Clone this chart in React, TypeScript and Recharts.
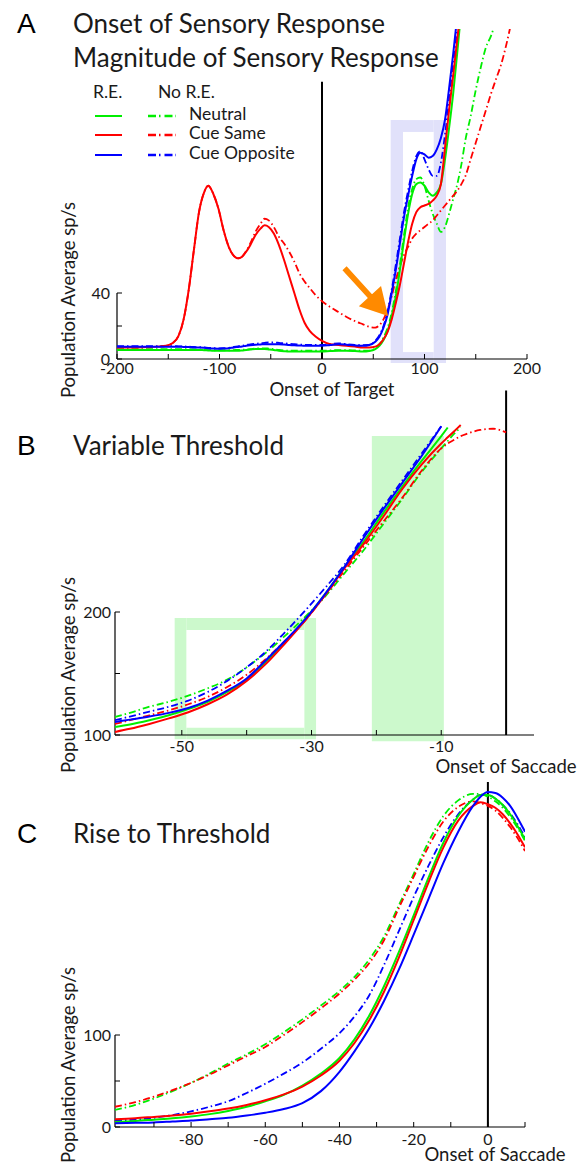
import React from 'react';
import { LineChart, Line, XAxis, YAxis, ReferenceLine, ReferenceArea } from 'recharts';

const FONT = "Lato, 'Open Sans', sans-serif";
const LETTER_FONT = "'Liberation Sans', Arial, sans-serif";
const GREEN = '#00ee00';
const RED = '#ff0000';
const BLUE = '#0000ff';
const LAVENDER = '#e1e1fa';
const MINT = '#ccf9cc';
const ORANGE = '#ff8a00';
const TEXT = '#1a1a1a';

// ---------- Panel A : Onset of Target ----------
const A_TIME = [-200,-180,-160,-152,-146,-140,-135,-130,-125,-120,-115,-111,-106,-101,-96,-91,-86,-82,-78,-74,-70,-65,-60,-56,-52,-47,-42,-37,-32,-27,-22,-17,-12,-6,0,8,16,24,32,40,46,52,56,60,64,68,72,76,80,84,88,92,96,100,104,108,112,116,120,124,128,132,136,140,145,150,155,160,165,170,175,180,185,190];
const A_NEUTRAL_RE = [5.5,5.5,5.5,5.5,5.5,5.5,5.5,5.5,5.5,5.5,5.3,5.2,5,5,5,5,5,5,5.2,5.5,5.7,6,6,6,5.8,5.5,5,4.7,4.5,4.5,4.5,4.5,4.5,4.5,4.5,4.8,5,5,4.8,4.5,4.8,6,8,11.5,17,26,38,54,72,88,100,106,107,105,101,99,101,106,121,140,161,186,212,null,null,null,null,null,null,null,null,null,null,null];
const A_SAME_RE = [7,7,7.5,8,9.5,14,24,42,66,89,101,105,100,91,78,68,62.5,61,62,65,69,75,79,81,80,76,69,60,50,40,30,22,17,13.5,11,9,8.5,8,7.5,7,7,7.5,9,12,16.5,24,34,45,58,71,82,89,92,93,94,96,99,106,128,151,172,194,216,null,null,null,null,null,null,null,null,null,null,null];
const A_OPPOSITE_RE = [7.5,7.5,7.5,7.5,7.5,7.5,7.3,7.2,7,7,6.8,6.5,6.3,6.2,6.3,6.5,7,7.3,7.6,8,8.3,8.6,8.8,9,9,9,9,8.8,8.5,8.3,8.2,8,8,8,8,8.5,9,8.7,8.2,8,8.5,10.5,13.5,19,27,40,54,70,86,99,111,121,125,124,122,123,127,134,145,164,185,208,null,null,null,null,null,null,null,null,null,null,null,null];
const A_NEUTRAL_NO = [6,6,6,6,6,6,6,6,5.8,5.7,5.5,5.4,5.3,5.3,5.3,5.3,5.4,5.5,5.6,5.8,6,6.3,6.5,6.5,6.3,6,5.5,5.2,5,5,5,5,5,5,5,5.2,5.4,5.4,5.2,5,5,6.5,9,13,19,28,41,57,75,92,103,109,110,105,96,88,82,77,80,88,97,106,118,133,147,163,177,189,196,206,null,null,null,null];
const A_SAME_NO = [7,7,7.5,8,9.5,14,24,42,66,89,101,105,100,91,78,68,62.5,61,62,65.5,70,77,82,85,84,80,74,70,65,59,52,47,43,38.5,35,31.5,28.5,25.5,23,21,19.5,19,20.5,24,30,38,48,56,63,68,73,76,78,80,82,84,87,90,93,96,99,102,106,111,121,131,141,151,161,170,179,191,205,null];
const A_OPPOSITE_NO = [7.8,7.8,7.8,7.8,7.8,7.7,7.6,7.5,7.3,7.2,7,6.8,6.6,6.5,6.6,6.8,7.3,7.7,8.1,8.5,8.9,9.2,9.5,9.8,10,10,9.8,9.5,9.2,9,8.8,8.6,8.5,8.5,8.5,9,9.5,9,8.6,8.4,8.5,11,14.5,20,29,42,57,73,89,102,114,123,126,121,115,111,111,119,136,157,179,200,220,null,null,null,null,null,null,null,null,null,null,null];
const A_X_TICKS = [-200,-150,-100,-50,0,50,100,150,200];
const A_X_LABELS = [-200,-100,0,100,200];
const A_Y_TICKS = [0,20,40];
const A_Y_LABELS = [0,40];
const A_FRAME_OUTER = { x1: 67, x2: 121, y1: -2.4, y2: 144.8 };
const A_FRAME_INNER = { x1: 79, x2: 109, y1: 4.2, y2: 137.6 };
const A_ARROW = [{ x: 22, y: 55 }, { x: 64.5, y: 26 }];

// ---------- Panel B : Variable Threshold ----------
const B_TIME = [-60.3,-58,-55,-52,-49,-46,-43,-40,-37,-34,-31,-28,-25,-22,-19,-16,-13,-10,-9,-8,-7,-6,-4,-2,0];
const B_NEUTRAL_RE = [106.5,108.5,112,116,121,127,135,145,160,176,194,214,236,257,280,302,323,343,350,null,null,null,null,null,null];
const B_SAME_RE = [102.5,105,109,113.5,118.5,125,133,144,158,175,193,213,235,255,277,300,320,337,342,347,352,null,null,null,null];
const B_OPPOSITE_RE = [110.6,112.5,115,118,122,128,136,146,161,177,194,214,236,260,283,305,327,351,null,null,null,null,null,null,null];
const B_NEUTRAL_NO = [114.6,118,123,127,132,138,145,155,167,181,196,212,231,250,271,292,314,333,339,345,350,null,null,null,null];
const B_SAME_NO = [109,112,116,120,125,131,139,149,162,177,193,213,233,253,273,293,315,333,337,340,343,345,348,349,346];
const B_OPPOSITE_NO = [112,115,119,123,128,135,144,155,168,184,201,219,238,262,285,307,329,351,null,null,null,null,null,null,null];
const B_X_TICKS = [-50,-40,-30,-20,-10];
const B_X_LABELS = [-50,-30,-10];
const B_Y_TICKS = [100,150,200];
const B_Y_LABELS = [100,200];
const B_FRAME_OUTER = { x1: -51.1, x2: -29.3, y1: 96.5, y2: 195.2 };
const B_FRAME_INNER = { x1: -49.3, x2: -31.1, y1: 105.9, y2: 185.4 };
const B_FILL = { x1: -20.7, x2: -9.6, y1: 95, y2: 343 };

// ---------- Panel C : Rise to Threshold ----------
const C_TIME = [-100.5,-95,-90,-85,-80,-75,-70,-65,-60,-55,-50,-45,-40,-36,-32,-28,-24,-20,-16,-12,-8,-4,-2,0,2,4,6,8,10];
const C_NEUTRAL_RE = [5.5,6.5,8,9.5,11.5,14,17.5,22,28,35,45,58,75,95,121,153,190,230,271,309,338,356,361,361,357,350,340,327,313];
const C_SAME_RE = [8.5,9.5,11,12.5,14.5,17,20,24,29,35.5,44,56,72,91,116,147,184,225,266,304,333,349,353,351,347,340,330,318,304];
const C_OPPOSITE_RE = [4,4.5,5,6,7,8.5,10,12.5,15.5,19.5,26,39,60,82,107,137,171,209,248,287,321,349,359,364,363,358,349,336,321];
const C_NEUTRAL_NO = [18.5,24,31,39,48,58,69,79,90,103,117,132,148,163,182,207,241,275,310,338,355,362,362,359,354,347,337,325,311];
const C_SAME_NO = [22,27,33,40,48,57,67,77,87,100,114,129,145,160,178,203,238,272,305,332,348,354,352,349,344,336,326,314,300];
const C_OPPOSITE_NO = [7,8,10,13,17,22,28,37,47,58,70,85,102,120,143,176,213,250,284,315,340,356,361,361,357,350,341,329,315];
const C_X_TICKS = [-90,-80,-70,-60,-50,-40,-30,-20,-10,0,10];
const C_X_LABELS = [-80,-60,-40,-20,0];
const C_Y_TICKS = [0,50,100];
const C_Y_LABELS = [0,100];

const build = (time: number[], s: Record<string, (number | null)[]>) =>
  time.map((t, i) => {
    const row: Record<string, number | null> = { t };
    Object.keys(s).forEach((k) => { row[k] = s[k][i]; });
    return row;
  });

const dataA = build(A_TIME, { neuRE: A_NEUTRAL_RE, sameRE: A_SAME_RE, oppRE: A_OPPOSITE_RE, neuNo: A_NEUTRAL_NO, sameNo: A_SAME_NO, oppNo: A_OPPOSITE_NO });
const dataB = build(B_TIME, { neuRE: B_NEUTRAL_RE, sameRE: B_SAME_RE, oppRE: B_OPPOSITE_RE, neuNo: B_NEUTRAL_NO, sameNo: B_SAME_NO, oppNo: B_OPPOSITE_NO });
const dataC = build(C_TIME, { neuRE: C_NEUTRAL_RE, sameRE: C_SAME_RE, oppRE: C_OPPOSITE_RE, neuNo: C_NEUTRAL_NO, sameNo: C_SAME_NO, oppNo: C_OPPOSITE_NO });

const TICK_FONT = 16;

const makeXTick = (labels: number[], margin: number) => (props: any) => {
  const { x, y, payload } = props;
  const ay = y - margin;
  const v = payload.value;
  return (
    <g>
      <line x1={x} x2={x} y1={ay} y2={ay - 5} stroke="#000" strokeWidth={1} />
      {labels.includes(v) ? (
        <text x={x} y={y} dy="0.74em" textAnchor="middle" fontSize={TICK_FONT} fontFamily={FONT} fill={TEXT}>{String(v)}</text>
      ) : null}
    </g>
  );
};

const makeYTick = (labels: number[], margin: number) => (props: any) => {
  const { x, y, payload } = props;
  const ax = x + margin;
  const v = payload.value;
  return (
    <g>
      <line x1={ax} x2={ax + 5} y1={y} y2={y} stroke="#000" strokeWidth={1} />
      {labels.includes(v) ? (
        <text x={x} y={y} dy="0.36em" textAnchor="end" fontSize={TICK_FONT} fontFamily={FONT} fill={TEXT}>{String(v)}</text>
      ) : null}
    </g>
  );
};

const ArrowShape = (p: any) => {
  const { x1, y1, x2, y2 } = p;
  const dx = x2 - x1;
  const dy = y2 - y1;
  const L = Math.hypot(dx, dy) || 1;
  const ux = dx / L, uy = dy / L;
  const nx = -uy, ny = ux;
  const head = 27, hw = 15, sw = 2.8;
  const bx = x2 - ux * head, by = y2 - uy * head;
  const pts = [
    [x1 + nx * sw, y1 + ny * sw],
    [bx + nx * sw, by + ny * sw],
    [bx + nx * hw, by + ny * hw],
    [x2, y2],
    [bx - nx * hw, by - ny * hw],
    [bx - nx * sw, by - ny * sw],
    [x1 - nx * sw, y1 - ny * sw],
  ];
  return <polygon points={pts.map((q) => q.join(',')).join(' ')} fill={ORANGE} />;
};

const DASH = '7 3 1.5 3';
const SOLID_W = 2;
const DASH_W = 1.8;

const seriesLines = (order: string[]) =>
  order.map((k) => {
    const color = k.startsWith('neu') ? GREEN : k.startsWith('same') ? RED : BLUE;
    const dashed = k.endsWith('No');
    return (
      <Line
        key={k}
        dataKey={k}
        type="monotone"
        stroke={color}
        strokeWidth={dashed ? DASH_W : SOLID_W}
        strokeDasharray={dashed ? DASH : undefined}
        dot={false}
        activeDot={false}
        isAnimationActive={false}
        connectNulls={false}
      />
    );
  });

const frameBars = (o: any, i: any, fill: string) => [
  <ReferenceArea key="fl" x1={o.x1} x2={i.x1} y1={o.y1} y2={o.y2} fill={fill} fillOpacity={1} stroke="none" ifOverflow="visible" />,
  <ReferenceArea key="fr" x1={i.x2} x2={o.x2} y1={o.y1} y2={o.y2} fill={fill} fillOpacity={1} stroke="none" ifOverflow="visible" />,
  <ReferenceArea key="ft" x1={i.x1} x2={i.x2} y1={i.y2} y2={o.y2} fill={fill} fillOpacity={1} stroke="none" ifOverflow="visible" />,
  <ReferenceArea key="fb" x1={i.x1} x2={i.x2} y1={o.y1} y2={i.y1} fill={fill} fillOpacity={1} stroke="none" ifOverflow="visible" />,
];

const ORDER = ['neuNo', 'sameNo', 'oppNo', 'neuRE', 'sameRE', 'oppRE'];

const PanelA = () => (
  <LineChart width={584} height={400} data={dataA} margin={{ top: 29, right: 57, bottom: 11, left: 77 }}>
    {frameBars(A_FRAME_OUTER, A_FRAME_INNER, LAVENDER)}
    <XAxis dataKey="t" type="number" domain={[-200, 200]} allowDataOverflow ticks={A_X_TICKS} interval={0} tickSize={0} tickMargin={3} tickLine={false} axisLine={{ stroke: '#000', strokeWidth: 1.2 }} tick={makeXTick(A_X_LABELS, 3)} height={30} />
    <YAxis type="number" domain={[0, 200]} allowDataOverflow ticks={A_Y_TICKS} interval={0} tickSize={0} tickMargin={7} tickLine={false} axisLine={false} tick={makeYTick(A_Y_LABELS, 7)} width={40} />
    <ReferenceLine segment={[{ x: -200, y: 0 }, { x: -200, y: 40 }]} stroke="#000" strokeWidth={1.2} ifOverflow="visible" />
    <ReferenceLine segment={[{ x: 0, y: 0 }, { x: 0, y: 168 }]} stroke="#000" strokeWidth={2} ifOverflow="visible" />
    {seriesLines(ORDER)}
    <ReferenceLine segment={A_ARROW} shape={ArrowShape} ifOverflow="visible" />
  </LineChart>
);

const PanelB = () => (
  <LineChart width={584} height={420} data={dataB} margin={{ top: 20.6, right: 50, bottom: 25, left: 75 }}>
    {frameBars(B_FRAME_OUTER, B_FRAME_INNER, MINT)}
    <ReferenceArea x1={B_FILL.x1} x2={B_FILL.x2} y1={B_FILL.y1} y2={B_FILL.y2} fill={MINT} fillOpacity={1} stroke="none" ifOverflow="visible" />
    <XAxis dataKey="t" type="number" domain={[-60.3, 4.3]} allowDataOverflow ticks={B_X_TICKS} interval={0} tickSize={0} tickMargin={5} tickLine={false} axisLine={{ stroke: '#000', strokeWidth: 1.2 }} tick={makeXTick(B_X_LABELS, 5)} height={30} />
    <YAxis type="number" domain={[100, 380]} allowDataOverflow ticks={B_Y_TICKS} interval={0} tickSize={0} tickMargin={4} tickLine={false} axisLine={false} tick={makeYTick(B_Y_LABELS, 4)} width={40} />
    <ReferenceLine segment={[{ x: -60.3, y: 100 }, { x: -60.3, y: 200 }]} stroke="#000" strokeWidth={1.2} ifOverflow="visible" />
    <ReferenceLine segment={[{ x: 0, y: 100 }, { x: 0, y: 380 }]} stroke="#000" strokeWidth={2} ifOverflow="visible" />
    {seriesLines(ORDER)}
  </LineChart>
);

const PanelC = () => (
  <LineChart width={584} height={395} data={dataC} margin={{ top: 12, right: 59, bottom: 8, left: 75 }}>
    <XAxis dataKey="t" type="number" domain={[-100.5, 10]} allowDataOverflow ticks={C_X_TICKS} interval={0} tickSize={0} tickMargin={6} tickLine={false} axisLine={{ stroke: '#000', strokeWidth: 1.2 }} tick={makeXTick(C_X_LABELS, 6)} height={30} />
    <YAxis type="number" domain={[0, 375]} allowDataOverflow ticks={C_Y_TICKS} interval={0} tickSize={0} tickMargin={4} tickLine={false} axisLine={false} tick={makeYTick(C_Y_LABELS, 4)} width={40} />
    <ReferenceLine segment={[{ x: -100.5, y: 0 }, { x: -100.5, y: 100 }]} stroke="#000" strokeWidth={1.2} ifOverflow="visible" />
    <ReferenceLine segment={[{ x: 0, y: 0 }, { x: 0, y: 375 }]} stroke="#000" strokeWidth={2} ifOverflow="visible" />
    {seriesLines(ORDER)}
  </LineChart>
);

const LEGEND_ROWS = [
  { label: 'Neutral', color: GREEN, y: 116 },
  { label: 'Cue Same', color: RED, y: 135 },
  { label: 'Cue Opposite', color: BLUE, y: 155 },
];

const Overlay = () => (
  <svg width={584} height={1165} style={{ position: 'absolute', left: 0, top: 0, pointerEvents: 'none' }}>
    <g fontFamily={LETTER_FONT} fontSize={28} fill="#000">
      <text x={17} y={33}>A</text>
      <text x={17} y={455}>B</text>
      <text x={17} y={843}>C</text>
    </g>
    <g fontFamily={FONT} fontSize={26} fill={TEXT}>
      <text x={73} y={33}>Onset of Sensory Response</text>
      <text x={73} y={67}>Magnitude of Sensory Response</text>
      <text x={73} y={455}>Variable Threshold</text>
      <text x={73} y={843}>Rise to Threshold</text>
    </g>
    <g fontFamily={FONT} fontSize={17.5} fill={TEXT}>
      <text x={93} y={98}>R.E.</text>
      <text x={158} y={98}>No R.E.</text>
      {LEGEND_ROWS.map((r) => (
        <g key={r.label}>
          <line x1={95} x2={122} y1={r.y} y2={r.y} stroke={r.color} strokeWidth={2} />
          <line x1={148} x2={176} y1={r.y} y2={r.y} stroke={r.color} strokeWidth={2.5} strokeDasharray="8 3 1.5 4" />
          <text x={189} y={r.y + 4}>{r.label}</text>
        </g>
      ))}
    </g>
    <g fontFamily={FONT} fontSize={18.5} fill={TEXT} textAnchor="middle">
      <text x={332} y={396}>Onset of Target</text>
      <text x={506} y={773}>Onset of Saccade</text>
      <text x={495} y={1161}>Onset of Saccade</text>
      <text transform="translate(75,300) rotate(-90)">Population Average sp/s</text>
      <text transform="translate(75,675) rotate(-90)">Population Average sp/s</text>
      <text transform="translate(75,1065) rotate(-90)">Population Average sp/s</text>
    </g>
  </svg>
);

export default function App() {
  return (
    <div style={{ position: 'absolute', left: 0, top: 0, width: 584, height: 1165, background: '#fff', fontFamily: FONT, overflow: 'hidden' }}>
      <div style={{ position: 'absolute', left: 0, top: 0 }}><PanelA /></div>
      <div style={{ position: 'absolute', left: 0, top: 370 }}><PanelB /></div>
      <div style={{ position: 'absolute', left: 0, top: 770 }}><PanelC /></div>
      <Overlay />
    </div>
  );
}
